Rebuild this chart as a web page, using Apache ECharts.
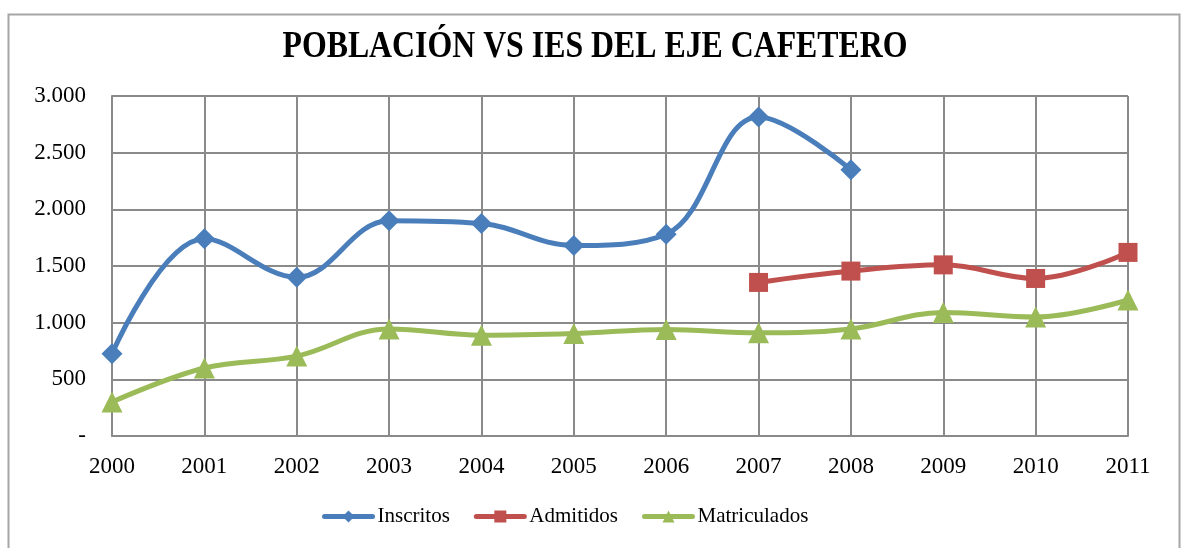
<!DOCTYPE html>
<html>
<head>
<meta charset="utf-8">
<script src="https://cdn.jsdelivr.net/npm/echarts@6/dist/echarts.min.js"></script>
<style>
  html, body { margin: 0; padding: 0; background: #fff; }
  #chart { width: 1181px; height: 548px; }
</style>
</head>
<body>
<div id="chart"></div>
<script>
const years = ['2000', '2001', '2002', '2003', '2004', '2005', '2006', '2007', '2008', '2009', '2010', '2011']
const inscritos = [725, 1740, 1400, 1900, 1875, 1680, 1780, 2815, 2350, null, null, null]
const admitidos = [null, null, null, null, null, null, null, 1355, 1455, 1510, 1390, 1620]
const matriculados = [300, 600, 705, 945, 890, 905, 940, 910, 945, 1090, 1050, 1200]

const serif = '"Liberation Serif", "Times New Roman", serif'
const gridColor = '#8a8a8a'

const fmt = v => (v === 0 ? '-' : String(v).replace(/\B(?=(\d{3})+(?!\d))/g, '.'))

const lineSeries = (name, data, color, symbol, size) => ({
  name,
  type: 'line',
  data,
  smooth: 0.38,
  connectNulls: false,
  symbol,
  symbolSize: size,
  showAllSymbol: true,
  lineStyle: { width: 5, color, cap: 'round' },
  itemStyle: { color, borderWidth: 0 },
  emphasis: { disabled: true },
  z: 3,
})

const chart = echarts.init(document.getElementById('chart'), null, { renderer: 'canvas' })
chart.setOption({
  animation: false,
  backgroundColor: '#fff',
  graphic: [
    {
      type: 'rect',
      shape: { x: 8.5, y: 14.5, width: 1171, height: 560 },
      style: { fill: 'none', stroke: '#a6a6a6', lineWidth: 2 },
      silent: true,
      z: -1,
    },
    {
      type: 'text',
      x: 595,
      y: 47,
      scaleX: 0.86,
      style: {
        text: 'POBLACIÓN VS IES DEL EJE CAFETERO',
        font: 'bold 37px ' + serif,
        fill: '#000',
        align: 'center',
        verticalAlign: 'middle',
      },
      silent: true,
    },
  ],
  legend: {
    bottom: 16,
    left: 317,
    itemWidth: 48,
    itemHeight: 15,
    itemGap: 24,
    lineStyle: { width: 5 },
    textStyle: { fontFamily: serif, fontSize: 21, color: '#000' },
    data: ['Inscritos', 'Admitidos', 'Matriculados'],
  },
  grid: { left: 112, right: 53, top: 96, bottom: 112 },
  xAxis: {
    type: 'category',
    data: years,
    boundaryGap: false,
    axisLine: { lineStyle: { color: gridColor, width: 2 } },
    axisTick: { show: false },
    axisLabel: { fontFamily: serif, fontSize: 23, color: '#000', margin: 19 },
    splitLine: { show: true, lineStyle: { color: gridColor, width: 2 } },
  },
  yAxis: {
    type: 'value',
    min: 0,
    max: 3000,
    interval: 500,
    axisLine: { show: true, lineStyle: { color: gridColor, width: 2 } },
    axisTick: { show: false },
    axisLabel: { fontFamily: serif, fontSize: 23, color: '#000', margin: 26, formatter: fmt },
    splitLine: { lineStyle: { color: gridColor, width: 2 } },
  },
  series: [
    lineSeries('Inscritos', inscritos, '#4a7ebb', 'diamond', 21),
    lineSeries('Admitidos', admitidos, '#c0504d', 'rect', 19),
    lineSeries('Matriculados', matriculados, '#9bbb59', 'triangle', 21),
  ],
})
</script>
</body>
</html>
